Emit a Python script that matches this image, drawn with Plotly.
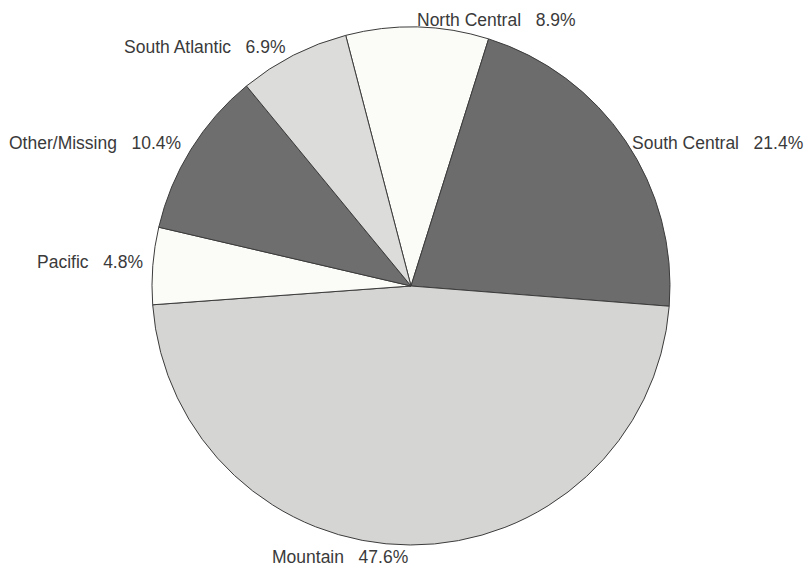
import math
import plotly.graph_objects as go

# Share of records by region
regions = ["North Central", "South Central", "Mountain", "Pacific", "Other/Missing", "South Atlantic"]
shares = [8.9, 21.4, 47.6, 4.8, 10.4, 6.9]
fills = ["#fbfbf8", "#6c6c6c", "#d5d5d3", "#fbfbf8", "#6e6e6e", "#dcdcda"]

W, H = 806, 568
cx_px, cy_px, r_px = 411, 286, 259
start_deg = -14.6  # first slice starts just left of 12 o'clock, going clockwise

dom_x = [(cx_px - r_px) / W, (cx_px + r_px) / W]
dom_y = [1 - (cy_px + r_px) / H, 1 - (cy_px - r_px) / H]

fig = go.Figure(go.Pie(
    labels=regions,
    values=shares,
    sort=False,
    direction="clockwise",
    rotation=start_deg,
    textinfo="none",
    hoverinfo="label+percent",
    marker=dict(colors=fills, line=dict(color="#3c3c3c", width=1)),
    domain=dict(x=dom_x, y=dom_y),
    showlegend=False,
))

# Outside labels placed at each slice's mid-angle
label_r = {"North Central": 268, "South Central": 263, "Mountain": 269,
           "Pacific": 262, "Other/Missing": 271, "South Atlantic": 268}
nudge_x = {"Other/Missing": 2, "South Atlantic": -1, "South Central": 1,
           "North Central": -3, "Pacific": -5}
nudge_y = {"Pacific": 4, "Mountain": -2, "South Central": -4, "North Central": -2}
total = sum(shares)
acc = 0.0
for name, v in zip(regions, shares):
    mid = math.radians(start_deg + (acc + v / 2) / total * 360)
    acc += v
    r = label_r[name]
    px = cx_px + r * math.sin(mid)
    py = cy_px - r * math.cos(mid)
    fig.add_annotation(
        x=px / W, y=1 - py / H, xref="paper", yref="paper",
        text=f"{name}\u00a0\u00a0\u00a0{v:.1f}%",
        showarrow=False,
        xanchor="left" if math.sin(mid) > 0 else "right",
        yanchor="middle",
        xshift=nudge_x.get(name, 0),
        yshift=nudge_y.get(name, 0),
        font=dict(family="Liberation Sans, Arial, sans-serif", size=17.5, color="#3a3a3a"),
    )

fig.update_layout(
    width=W, height=H,
    margin=dict(l=0, r=0, t=0, b=0),
    paper_bgcolor="white",
    plot_bgcolor="white",
)

fig.write_html("out.html")
